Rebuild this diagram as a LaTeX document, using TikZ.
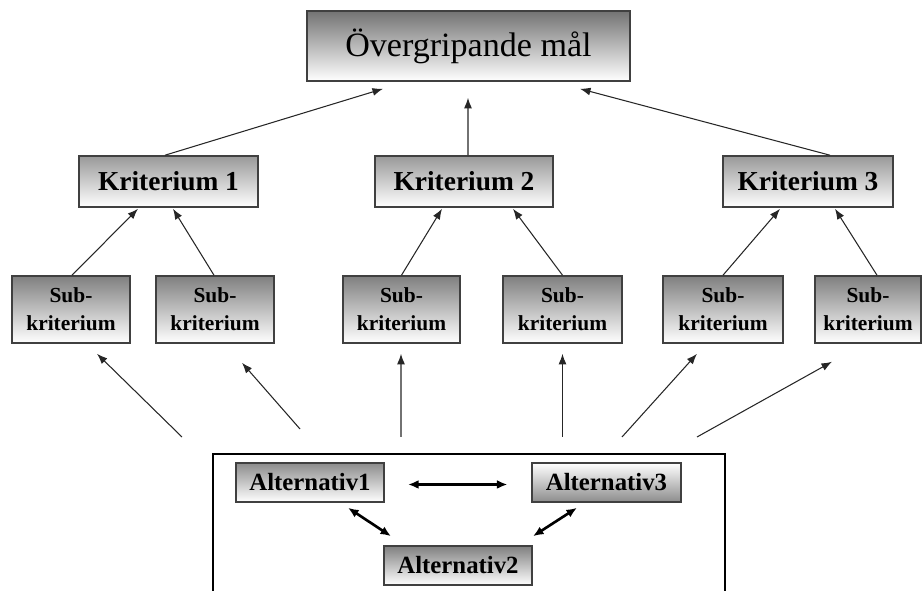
\documentclass[tikz,border=0pt]{standalone}
\usepackage{fontspec}
\setmainfont{Liberation Serif}
\usetikzlibrary{arrows.meta}
\begin{document}
\begin{tikzpicture}[x=0.02cm,y=-0.02cm,
  box/.style={draw=black!75,line width=0.9pt,inner sep=0pt,align=center,text=black},
  topbox/.style={box,top color=black!55,bottom color=white,minimum width=6.46cm,minimum height=1.4cm,font=\fontsize{19.4}{22}\selectfont},
  kbox/.style={box,top color=black!40,bottom color=white,minimum height=1.02cm,font=\bfseries\fontsize{15.6}{18}\selectfont},
  sbox/.style={box,top color=black!50,bottom color=white,minimum height=1.34cm,font=\bfseries\fontsize{12.2}{15.9}\selectfont},
  abox/.style={box,minimum width=2.97cm,minimum height=0.78cm,font=\bfseries\fontsize{14.1}{16}\selectfont},
  arr/.style={-{Latex[length=6pt,width=4.5pt]},line width=0.6pt,draw=black!85},
  darr/.style={{Latex[length=6pt,width=5pt]}-{Latex[length=6pt,width=5pt]},line width=1.5pt,draw=black},
  frame/.style={line width=1.3pt,draw=black}]
\useasboundingbox (0,0) rectangle (924,591);

\node[topbox] (top) at (468.5,46) {Övergripande mål};

\node[kbox,minimum width=3.58cm] (k1) at (168.5,181.5) {Kriterium 1};
\node[kbox,minimum width=3.56cm] (k2) at (464,181.5) {Kriterium 2};
\node[kbox,minimum width=3.40cm] (k3) at (808,181.5) {Kriterium 3};

\node[sbox,minimum width=2.36cm] (s1) at (71,309.5) {Sub-\\kriterium};
\node[sbox,minimum width=2.36cm] (s2) at (215,309.5) {Sub-\\kriterium};
\node[sbox,minimum width=2.34cm] (s3) at (401.5,309.5) {Sub-\\kriterium};
\node[sbox,minimum width=2.38cm] (s4) at (562.5,309.5) {Sub-\\kriterium};
\node[sbox,minimum width=2.40cm] (s5) at (723,309.5) {Sub-\\kriterium};
\node[sbox,minimum width=2.12cm] (s6) at (868,309.5) {Sub-\\kriterium};

\draw[frame] (213,600) -- (213,454) -- (725,454) -- (725,600);

\node[abox,top color=black!45,bottom color=white] (a1) at (310,482.5) {Alternativ1};
\node[abox,top color=white,bottom color=black!45] (a3) at (606.5,482.5) {Alternativ3};
\node[abox,top color=black!50,bottom color=white] (a2) at (458,565.5) {Alternativ2};

% criteria to goal
\draw[arr] ([xshift=-0.07cm]k1.north) -- ([xshift=-1.71cm,yshift=-0.14cm]top.south);
\draw[arr] ([xshift=0.08cm]k2.north) -- ([xshift=-0.01cm,yshift=-0.32cm]top.south);
\draw[arr] ([xshift=0.44cm]k3.north) -- ([xshift=2.23cm,yshift=-0.14cm]top.south);

% sub-criteria to criteria
\draw[arr] ([xshift=0.02cm]s1.north) -- ([xshift=-0.61cm,yshift=-0.02cm]k1.south);
\draw[arr] ([xshift=-0.02cm]s2.north) -- ([xshift=0.09cm,yshift=-0.02cm]k1.south);
\draw[arr] (s3.north) -- ([xshift=-0.44cm,yshift=-0.02cm]k2.south);
\draw[arr] (s4.north) -- ([xshift=0.98cm,yshift=-0.02cm]k2.south);
\draw[arr] (s5.north) -- ([xshift=-0.56cm,yshift=-0.02cm]k3.south);
\draw[arr] ([xshift=0.18cm]s6.north) -- ([xshift=0.54cm,yshift=-0.02cm]k3.south);

% alternatives to sub-criteria
\coordinate (f1) at (182,437);
\coordinate (f2) at (300,429);
\coordinate (f3) at (401,437);
\coordinate (f4) at (562.5,437);
\coordinate (f5) at (622,437);
\coordinate (f6) at (697,437);
\draw[arr] (f1) -- ([xshift=0.52cm,yshift=-0.2cm]s1.south);
\draw[arr] (f2) -- ([xshift=0.54cm,yshift=-0.38cm]s2.south);
\draw[arr] (f3) -- ([xshift=-0.01cm,yshift=-0.2cm]s3.south);
\draw[arr] (f4) -- ([yshift=-0.2cm]s4.south);
\draw[arr] (f5) -- ([xshift=-0.52cm,yshift=-0.2cm]s5.south);
\draw[arr] (f6) -- ([xshift=-0.72cm,yshift=-0.36cm]s6.south);

% between alternatives
\draw[darr] ([xshift=0.46cm,yshift=-0.04cm]a1.east) -- ([xshift=-0.48cm,yshift=-0.04cm]a3.west);
\draw[darr] ([xshift=0.76cm,yshift=-0.1cm]a1.south) -- ([xshift=-1.34cm,yshift=0.18cm]a2.north);
\draw[darr] ([xshift=-0.59cm,yshift=-0.1cm]a3.south) -- ([xshift=1.5cm,yshift=0.18cm]a2.north);
\end{tikzpicture}
\end{document}
